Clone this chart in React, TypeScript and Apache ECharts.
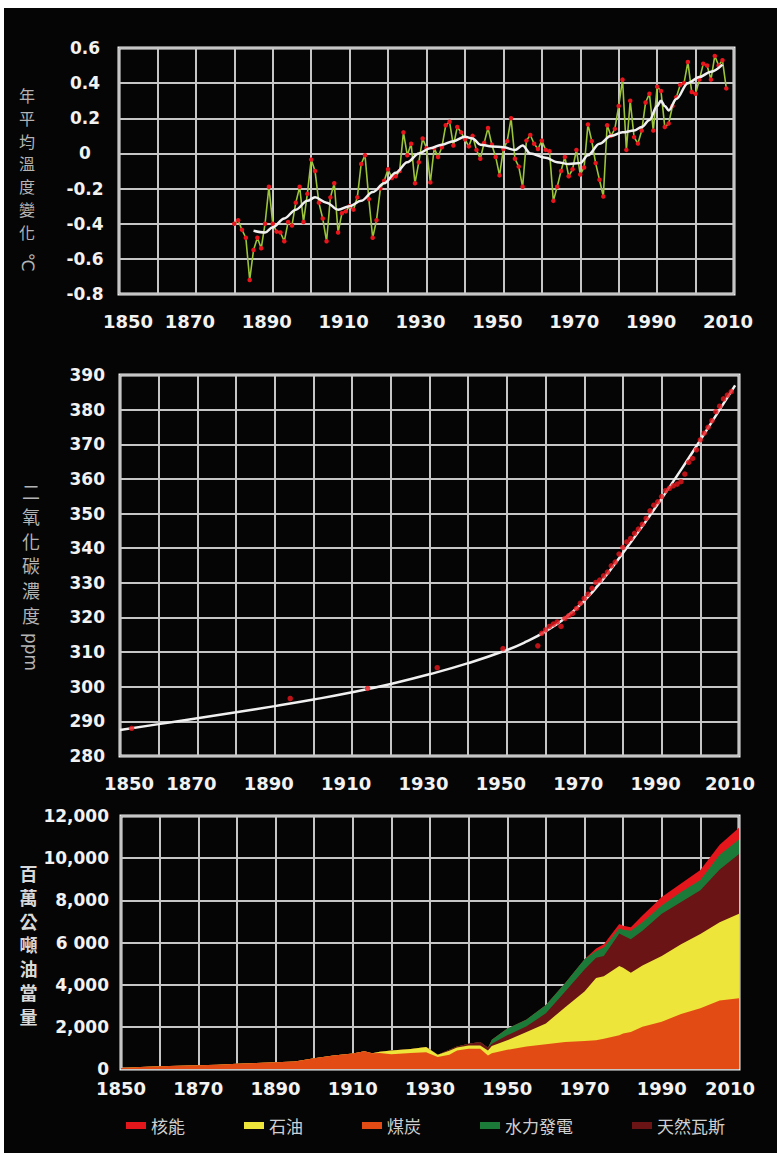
import React, { useEffect, useRef } from "react";
import * as echarts from "echarts";

// ---------- Panel 1: annual mean temperature change (°C) ----------
const tempStartYear = 1880;
const tempValues = [
  -0.40, -0.38, -0.435, -0.48, -0.72, -0.55, -0.48, -0.54, -0.40, -0.19, // 1880-1889
  -0.40, -0.445, -0.45, -0.50, -0.39, -0.41, -0.28, -0.19, -0.39, -0.23, // 1890-1899
  -0.035, -0.10, -0.28, -0.37, -0.50, -0.25, -0.17, -0.45, -0.34, -0.33, // 1900-1909
  -0.30, -0.32, -0.25, -0.06, -0.01, -0.26, -0.48, -0.38, -0.20, -0.155, // 1910-1919
  -0.09, -0.14, -0.13, -0.10, 0.12, -0.01, 0.055, -0.17, -0.05, 0.085, // 1920-1929
  0.03, -0.165, 0.03, -0.02, 0.035, 0.16, 0.18, 0.045, 0.15, 0.12, // 1930-1939
  0.08, 0.04, 0.10, 0.02, -0.03, 0.06, 0.145, 0.05, -0.02, -0.125, // 1940-1949
  0.025, 0.07, 0.20, -0.03, -0.075, -0.19, 0.073, 0.105, 0.055, 0.025, // 1950-1959
  0.073, 0.02, 0.013, -0.27, -0.19, -0.10, -0.02, -0.13, -0.09, 0.02, // 1960-1969
  -0.12, -0.08, 0.165, 0.07, -0.055, -0.15, -0.245, 0.16, 0.10, 0.14, // 1970-1979
  0.27, 0.42, 0.02, 0.30, 0.093, 0.056, 0.13, 0.29, 0.34, 0.13, // 1980-1989
  0.38, 0.355, 0.15, 0.17, 0.27, 0.32, 0.39, 0.40, 0.52, 0.35, // 1990-1999
  0.34, 0.42, 0.51, 0.50, 0.42, 0.555, 0.50, 0.53, 0.37, // 2000-2008
];
const tempSmooth: [number, number][] = [
  [1885, -0.44], [1888, -0.45], [1890, -0.42], [1893, -0.37], [1896, -0.32],
  [1899, -0.27], [1901, -0.25], [1904, -0.28], [1907, -0.32], [1910, -0.30],
  [1913, -0.27], [1916, -0.22], [1919, -0.17], [1922, -0.11], [1925, -0.05],
  [1928, 0.0], [1931, 0.03], [1934, 0.05], [1937, 0.07], [1940, 0.095],
  [1942, 0.085], [1944, 0.05], [1947, 0.04], [1950, 0.035], [1953, 0.02],
  [1955, 0.045], [1957, 0.0], [1961, -0.025], [1964, -0.05], [1967, -0.06],
  [1970, -0.055], [1972, -0.01], [1975, 0.055], [1978, 0.10], [1981, 0.12],
  [1984, 0.13], [1986, 0.15], [1988, 0.19], [1990, 0.27], [1991, 0.30],
  [1992, 0.27], [1993, 0.245], [1995, 0.31], [1998, 0.40], [2001, 0.435],
  [2004, 0.465], [2007, 0.505],
];
const tempYLabels = ["-0.8", "-0.6", "-0.4", "-0.2", "0", "0.2", "0.4", "0.6"];

// ---------- Panel 2: CO2 concentration (ppm) ----------
const co2Points: [number, number][] = [
  [1853, 288], [1894, 296.6], [1914, 299.5], [1932, 305.5], [1949, 311],
  [1958, 311.8], [1959, 315.4], [1960, 316.4], [1961, 317.4], [1962, 318.1],
  [1963, 318.7], [1964, 317.4], [1965, 319.7], [1966, 320.5], [1967, 321.2],
  [1968, 322.6], [1969, 324.1], [1970, 325.5], [1971, 326.7], [1972, 328.4],
  [1973, 330.1], [1974, 330.8], [1975, 332], [1976, 333.1], [1977, 334.9],
  [1978, 336], [1979, 338.3], [1980, 340.2], [1981, 341.8], [1982, 342.8],
  [1983, 344.3], [1984, 345.5], [1985, 346.9], [1986, 348.6], [1987, 350.8],
  [1988, 352.4], [1989, 353.4], [1990, 354.9], [1991, 356.6], [1992, 357.3],
  [1993, 358.0], [1994, 358.5], [1995, 359.2], [1996, 361.4], [1997, 364.8],
  [1998, 365.9], [1999, 368.4], [2000, 371.3], [2001, 373.2], [2002, 374.9],
  [2003, 376.8], [2004, 379.4], [2005, 381], [2006, 383.1], [2007, 384.2],
  [2008, 385.2],
];
const co2Curve: [number, number][] = [
  [1850, 287.5], [1860, 289.2], [1870, 290.9], [1880, 292.6], [1890, 294.4],
  [1900, 296.3], [1910, 298.4], [1920, 300.8], [1930, 303.6], [1940, 306.8],
  [1950, 310.6], [1955, 313.0], [1960, 316.0], [1965, 319.8], [1970, 324.8],
  [1975, 331.2], [1980, 338.6], [1985, 346.3], [1990, 354.3], [1995, 362.6],
  [2000, 371.2], [2005, 380.0], [2009, 387.0],
];

// ---------- Panel 3: energy consumption (million tonnes oil equivalent) ----------
const energyYears = [
  1850, 1855, 1860, 1865, 1870, 1875, 1880, 1885, 1890, 1895, 1900, 1905, 1910, 1913,
  1915, 1917, 1920, 1925, 1929, 1932, 1935, 1937, 1940, 1943, 1945, 1946, 1950, 1955,
  1960, 1965, 1970, 1973, 1975, 1979, 1980, 1982, 1985, 1990, 1995, 2000, 2005, 2010,
];
const coal = [
  50, 90, 130, 150, 175, 200, 250, 280, 315, 360, 510, 640, 730, 840,
  750, 760, 700, 757, 790, 570, 680, 880, 960, 960, 640, 750, 910, 1070,
  1170, 1280, 1330, 1360, 1440, 1600, 1680, 1760, 2000, 2240, 2610, 2880, 3250, 3360,
];
const oil = [
  0, 0, 0, 0, 0, 0, 0, 0, 0, 0, 0, 0, 0, 0,
  0, 60, 180, 190, 250, 110, 180, 140, 160, 160, 240, 340, 450, 690,
  990, 1650, 2350, 2960, 2960, 3280, 3120, 2800, 2910, 3120, 3310, 3520, 3710, 4000,
];
const gas = [
  0, 0, 0, 0, 0, 0, 0, 0, 0, 0, 0, 0, 0, 0,
  0, 0, 0, 0, 0, 0, 55, 50, 80, 160, 130, 110, 240, 270,
  480, 750, 1040, 960, 960, 1550, 1530, 1600, 1650, 2000, 2000, 2080, 2500, 2840,
];
const hydro = [
  0, 0, 0, 0, 0, 0, 0, 0, 0, 0, 0, 0, 0, 0,
  0, 0, 0, 0, 0, 0, 0, 0, 0, 0, 0, 190, 320, 320,
  400, 400, 480, 320, 400, 240, 280, 400, 400, 400, 480, 480, 700, 680,
];
const nuclear = [
  0, 0, 0, 0, 0, 0, 0, 0, 0, 0, 0, 0, 0, 0,
  0, 0, 0, 0, 0, 0, 0, 0, 0, 0, 0, 0, 0, 0,
  0, 0, 0, 110, 160, 210, 190, 160, 320, 400, 400, 480, 480, 560,
];
const energyYLabels = ["0", "2,000", "4,000", "6 000", "8,000", "10,000", "12,000"];
const legendNames = ["核能", "石油", "煤炭", "水力發電", "天然瓦斯"];

const NUM_FONT = "DejaVu Sans";
const CJK_FONT = "Noto Sans CJK TC";

function buildOption() {
  const labelBase = {
    fontFamily: NUM_FONT,
    fontWeight: "bold" as const,
    fontSize: 18,
    color: "#f2f2f2",
  };
  const rich = {
    c: { ...labelBase },
    r: { ...labelBase, padding: [0, 0, 0, 18] },
    l: { ...labelBase, padding: [0, 12, 0, 0] },
    e: { ...labelBase, padding: [0, 18, 0, 0] },
  };
  const splitLine = { show: true, lineStyle: { color: "#c6c6c6", width: 2 } };

  const xAxis = (gridIndex: number, margin: number, mode: number) => ({
    type: "value",
    gridIndex,
    min: 1850,
    max: 2010,
    interval: 10,
    axisLine: { show: false },
    axisTick: { show: false },
    splitLine,
    axisLabel: {
      margin,
      showMinLabel: true,
      showMaxLabel: true,
      ...labelBase,
      rich,
      formatter: (v: number) => {
        const y = Math.round(v);
        if ((y - 1850) % 20 !== 0) return "";
        if (mode === 0) return y === 1850 ? `{r|${y}}` : `{l|${y}}`;
        if (mode === 1) return y === 1850 ? `{r|${y}}` : y === 2010 ? `{e|${y}}` : `{l|${y}}`;
        return y === 2010 ? `{e|${y}}` : `{c|${y}}`;
      },
    },
  });

  const gridStyle = {
    show: true,
    borderColor: "#f2f2f2",
    borderWidth: 3,
    backgroundColor: "transparent",
  };

  const energyColors: Record<string, string> = {
    煤炭: "#e24c14",
    石油: "#eee53a",
    天然瓦斯: "#6a1416",
    水力發電: "#1c7a38",
    核能: "#e3161c",
  };
  // stacking order from bottom to top
  const stackOrder: [string, number[]][] = [
    ["煤炭", coal],
    ["石油", oil],
    ["天然瓦斯", gas],
    ["水力發電", hydro],
    ["核能", nuclear],
  ];
  const cumulative: [string, number[]][] = [];
  let running = energyYears.map(() => 0);
  for (const [name, vals] of stackOrder) {
    running = running.map((r, i) => r + vals[i]);
    cumulative.push([name, running.slice()]);
  }
  // draw the tallest first so lower layers paint over it
  const drawOrder = cumulative.slice().reverse();

  const charTexts = (chars: string, x: number, y0: number, step: number, fill: string, size: number, weight = "normal") =>
    chars.split("").map((ch, i) => ({
      type: "text",
      x,
      y: y0 + i * step,
      silent: true,
      style: {
        text: ch,
        fill,
        fontFamily: CJK_FONT,
        fontSize: size,
        fontWeight: weight,
        lineHeight: size + 1,
        textAlign: "center",
        textVerticalAlign: "middle",
      },
    }));
  const rText = (t: string, x: number, y: number, fill: string, size: number) => ({
    type: "text",
    x,
    y,
    rotation: -Math.PI / 2,
    silent: true,
    style: {
      text: t,
      fill,
      fontFamily: "DejaVu Sans",
      fontSize: size,
      lineHeight: size + 1,
      textAlign: "center",
      textVerticalAlign: "middle",
    },
  });

  return {
    animation: false,
    backgroundColor: "#ffffff",
    textStyle: { fontFamily: NUM_FONT },
    graphic: [
      {
        type: "rect",
        z: -10,
        silent: true,
        shape: { x: 4, y: 8, width: 773, height: 1145 },
        style: { fill: "#050505" },
      },
      ...charTexts("年平均溫度變化", 27, 95, 22.8, "#b4b4b4", 16),
      rText("℃", 28, 262, "#b4b4b4", 17),
      ...charTexts("二氧化碳濃度", 31, 491, 24.8, "#b4b4b4", 18),
      rText("ppm", 31, 652, "#b4b4b4", 17),
      ...charTexts("百萬公噸油當量", 28.5, 873, 23.8, "#d8d8d8", 18, "bold"),
    ],
    grid: [
      { left: 119, right: 43, top: 48, height: 246, ...gridStyle },
      { left: 120, right: 38, top: 375, height: 381, ...gridStyle },
      { left: 121, right: 38, top: 816, height: 253, ...gridStyle },
    ],
    xAxis: [xAxis(0, 18, 0), xAxis(1, 18, 1), xAxis(2, 10, 2)],
    yAxis: [
      {
        type: "value",
        gridIndex: 0,
        min: -0.8,
        max: 0.6,
        interval: 0.2,
        axisLine: { show: false },
        axisTick: { show: false },
        splitLine,
        axisLabel: {
          margin: 34,
          align: "center",
          ...labelBase,
          fontSize: 17,
          formatter: (v: number) => tempYLabels[Math.round((v + 0.8) / 0.2)] ?? "",
        },
      },
      {
        type: "value",
        gridIndex: 1,
        min: 280,
        max: 390,
        interval: 10,
        axisLine: { show: false },
        axisTick: { show: false },
        splitLine,
        axisLabel: { margin: 15, ...labelBase, fontSize: 17 },
      },
      {
        type: "value",
        gridIndex: 2,
        min: 0,
        max: 12000,
        interval: 2000,
        axisLine: { show: false },
        axisTick: { show: false },
        splitLine,
        axisLabel: {
          margin: 12,
          ...labelBase,
          fontSize: 17,
          formatter: (v: number) => energyYLabels[Math.round(v / 2000)] ?? "",
        },
      },
    ],
    legend: {
      data: legendNames,
      left: 121,
      top: 1112,
      itemGap: 59,
      itemWidth: 20,
      itemHeight: 7,
      icon: "rect",
      selectedMode: false,
      textStyle: { color: "#d0d0d0", fontSize: 17, fontFamily: CJK_FONT },
    },
    series: [
      {
        type: "line",
        xAxisIndex: 0,
        yAxisIndex: 0,
        data: tempValues.map((v, i) => [tempStartYear + i, v]),
        symbol: "circle",
        symbolSize: 4.5,
        showAllSymbol: true,
        itemStyle: { color: "#e8161c", borderWidth: 0 },
        lineStyle: { color: "#9cc43a", width: 1.6 },
        z: 3,
      },
      {
        type: "line",
        xAxisIndex: 0,
        yAxisIndex: 0,
        data: tempSmooth,
        smooth: 0.35,
        smoothMonotone: "x",
        symbol: "none",
        lineStyle: { color: "#f0f0f0", width: 2.5 },
        z: 4,
      },
      {
        type: "line",
        xAxisIndex: 1,
        yAxisIndex: 1,
        data: co2Curve,
        smooth: 0.5,
        symbol: "none",
        lineStyle: { color: "#f0f0f0", width: 2.5 },
        z: 3,
      },
      {
        type: "scatter",
        xAxisIndex: 1,
        yAxisIndex: 1,
        data: co2Points,
        symbolSize: 5.5,
        itemStyle: { color: "#e8161c" },
        z: 4,
      },
      ...drawOrder.map(([name, tops]) => ({
        type: "line",
        name,
        xAxisIndex: 2,
        yAxisIndex: 2,
        data: energyYears.map((y, i) => [y, tops[i]]),
        symbol: "none",
        lineStyle: { width: 0 },
        itemStyle: { color: energyColors[name] },
        areaStyle: { color: energyColors[name], opacity: 1, origin: "start" },
        z: 3,
      })),
    ],
  };
}

export default function App() {
  const ref = useRef<HTMLDivElement>(null);
  useEffect(() => {
    document.body.style.margin = "0";
    const chart = echarts.init(ref.current!, null, { renderer: "svg" });
    chart.setOption(buildOption() as any);
    return () => chart.dispose();
  }, []);
  return <div ref={ref} style={{ width: 777, height: 1153 }} />;
}
